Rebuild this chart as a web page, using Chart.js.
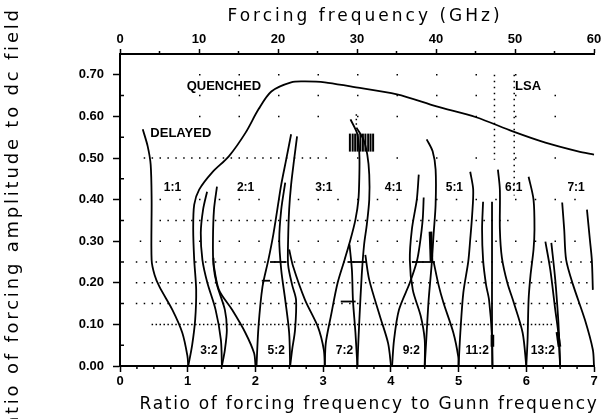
<!DOCTYPE html>
<html>
<head>
<meta charset="utf-8">
<title>Locking regions vs forcing frequency</title>
<script src="https://cdn.jsdelivr.net/npm/chart.js@4.4.1/dist/chart.umd.min.js"></script>
<style>
  html, body { margin: 0; padding: 0; background: #fff; }
  #wrap { width: 605px; height: 419px; position: relative; }
</style>
</head>
<body>
<div id="wrap"><canvas id="lockChart"></canvas></div>
<script>
// region boundaries, [ratio to Gunn frequency, ratio of amplitude to dc field]
var quenchedEdge = [[1.008,0],[1.066,0.051],[1.110,0.111],[1.125,0.183],[1.096,0.255],[1.081,0.328],[1.096,0.388],
  [1.169,0.424],[1.359,0.465],[1.607,0.504],[1.855,0.561],[2.045,0.617],[2.235,0.660],[2.527,0.682],[2.732,0.684],
  [3.024,0.682],[3.404,0.672],[4.091,0.653],[4.675,0.624],[5.260,0.598],[5.800,0.564],[6.282,0.537],[6.764,0.516],[7.0,0.508]];
var delayedEdge = [[0.336,0.569],[0.409,0.528],[0.453,0.484],[0.467,0.400],[0.467,0.255],[0.511,0.219],[0.584,0.190],
  [0.774,0.135],[0.920,0.080],[0.995,0.025],[1.008,0]];
var threeTwoLeft = [[1.286,0.419],[1.227,0.376],[1.193,0.320],[1.217,0.255],[1.290,0.200],[1.412,0.135],[1.490,0.063],[1.505,0]];
var threeTwoRight = [[1.432,0.431],[1.388,0.376],[1.373,0.304],[1.380,0.243],[1.432,0.195],[1.549,0.135],[1.578,0.087],[1.549,0.039],[1.505,0]];
var twoOneLeft = [[1.380,0.260],[1.388,0.239],[1.461,0.183],[1.656,0.135],[1.851,0.080],[1.980,0.031],[2.001,0]];
var twoOneRight = [[2.527,0.557],[2.454,0.496],[2.381,0.436],[2.323,0.376],[2.264,0.316],[2.191,0.255],[2.104,0.190],[2.045,0.094],[2.016,0]];
var fiveTwoRight = [[2.615,0.552],[2.571,0.496],[2.527,0.436],[2.498,0.376],[2.483,0.304],[2.483,0.243],[2.542,0.195],[2.600,0.159],[2.585,0.087],[2.542,0.039],[2.513,0]];
var fiveTwoLeft = [[2.440,0.441],[2.381,0.376],[2.352,0.304],[2.381,0.231],[2.440,0.159],[2.498,0.080],[2.513,0]];
var threeOneLeft = [[2.498,0.280],[2.557,0.239],[2.732,0.159],[2.923,0.094],[3.010,0.039],[3.024,0]];
var threeOneRight = [[3.404,0.593],[3.506,0.557],[3.535,0.508],[3.535,0.460],[3.521,0.400],[3.477,0.352],[3.404,0.304],
  [3.316,0.255],[3.214,0.200],[3.112,0.118],[3.039,0.055],[3.024,0]];
var sevenTwoLeft = [[3.389,0.292],[3.425,0.231],[3.440,0.159],[3.477,0.080],[3.506,0]];
var sevenTwoRight = [[3.492,0.573],[3.594,0.545],[3.652,0.508],[3.681,0.460],[3.681,0.400],[3.645,0.340],[3.605,0.292],
  [3.570,0.219],[3.535,0.111],[3.515,0.039],[3.506,0]];
var fourOneLeft = [[3.623,0.267],[3.681,0.207],[3.842,0.118],[3.959,0.055],[4.003,0]];
var fourOneRight = [[4.485,0.405],[4.470,0.352],[4.427,0.292],[4.383,0.251],[4.280,0.200],[4.120,0.135],[4.047,0.063],[4.018,0]];
var nineTwoLeft = [[4.412,0.460],[4.383,0.400],[4.310,0.328],[4.280,0.255],[4.324,0.183],[4.441,0.120],[4.500,0.063],[4.500,0]];
var nineTwoRight = [[4.529,0.545],[4.617,0.516],[4.661,0.472],[4.661,0.388],[4.631,0.316],[4.602,0.243],[4.558,0.159],[4.529,0.080],[4.500,0]];
var fiveOneLeft = [[4.631,0.251],[4.704,0.195],[4.777,0.152],[4.923,0.080],[4.996,0.022],[5.0,0]];
var fiveOneRight = [[5.172,0.467],[5.216,0.424],[5.201,0.364],[5.172,0.304],[5.143,0.251],[5.070,0.176],[5.026,0.080],[5.0,0]];
var elevenTwoLeft = [[5.362,0.395],[5.347,0.328],[5.362,0.255],[5.406,0.195],[5.450,0.159],[5.494,0.070],[5.5,0]];
var elevenTwoRight = [[5.494,0.395],[5.494,0.255],[5.494,0.080],[5.5,0]];
var sixOneLeft = [[5.581,0.472],[5.610,0.424],[5.610,0.328],[5.640,0.260],[5.720,0.200],[5.810,0.155],[5.946,0.080],[6.0,0]];
var sixOneRight = [[6.034,0.455],[6.107,0.400],[6.121,0.328],[6.107,0.280],[6.063,0.219],[6.034,0.159],[6.019,0.063],[6.0,0]];
var thirteenTwoLeft = [[6.282,0.299],[6.355,0.231],[6.428,0.135],[6.472,0.080],[6.5,0]];
var thirteenTwoRight = [[6.370,0.296],[6.428,0.207],[6.472,0.111],[6.486,0.063],[6.5,0]];
var sevenOneLeft = [[6.530,0.393],[6.560,0.328],[6.589,0.255],[6.691,0.195],[6.866,0.111],[6.983,0.039],[7.0,0]];
var sevenOneRight = [[6.896,0.376],[6.939,0.304],[6.968,0.255],[6.983,0.183]];

// short horizontal marks and heavy bits
var markBars = [
  [[2.216,0.25],[2.459,0.25]],
  [[2.094,0.205],[2.216,0.205]],
  [[3.36,0.25],[3.64,0.25]],
  [[3.26,0.155],[3.48,0.155]],
  [[4.31,0.25],[4.65,0.25]]
];
var heavyBits = [
  [[4.585,0.323],[4.600,0.251]],
  [[5.500,0.075],[5.500,0.046]],
  [[6.460,0.082],[6.490,0.046]]
];

// hatched patch above the 3:1 / 7:2 region
var hatchX = [3.395, 3.436, 3.473, 3.509, 3.550, 3.587, 3.624, 3.665, 3.700, 3.738];
var hatchLevel = 0.537;

// LSA limits in GHz
var lsaGHz = [47.4, 49.9];
var lsaTop = [0.70, 0.70];
var lsaBottom = [0.496, 0.410];

// dotted rows of measurement points (GHz)
var dotRowLevel = [0.70, 0.65, 0.60, 0.50, 0.50, 0.40, 0.35, 0.30, 0.25, 0.20, 0.15, 0.10];
var dotRowFrom = [10, 10, 10, 3, 30, 2.5, 5, 2.5, 2, 2, 2, 4];
var dotRowTo = [55, 60, 60, 27, 60, 60, 50, 60, 60, 60, 60, 55];
var dotRowStep = [5, 5, 5, 1, 5, 2.5, 1, 2.5, 1.25, 1, 1, 0.5];

// labels written on the figure
var labelText = ['QUENCHED', 'DELAYED', 'LSA', '1:1', '2:1', '3:1', '4:1', '5:1', '6:1', '7:1',
  '3:2', '5:2', '7:2', '9:2', '11:2', '13:2'];
var labelX = [1.534, 0.898, 6.026, 0.774, 1.855, 3.010, 4.039, 4.938, 5.815, 6.735,
  1.315, 2.308, 3.316, 4.302, 5.274, 6.245];
var labelY = [0.672, 0.559, 0.672, 0.429, 0.429, 0.429, 0.429, 0.429, 0.429, 0.429,
  0.038, 0.038, 0.038, 0.036, 0.036, 0.036];

var xTitle = 'Ratio of forcing frequency to Gunn frequency';
var x2Title = 'Forcing frequency (GHz)';
var yTitle = 'Ratio of forcing amplitude to dc field';

var yMinor = [0.05, 0.15, 0.25, 0.35, 0.45, 0.55, 0.65];
var xMinor = [0.25, 0.5, 0.75, 1.25, 1.5, 1.75, 2.25, 2.5, 2.75, 3.25, 3.5, 3.75, 4.25, 4.5, 4.75, 5.25, 5.5, 5.75, 6.25, 6.5, 6.75];
var ghzMinor = [5, 15, 25, 35, 45, 55];

var FONT = '"Liberation Sans", Arial, sans-serif';
var TITLE_FONT = '"DejaVu Sans", sans-serif';

function toXY(pts) {
  return pts.map(function (p) { return { x: p[0], y: p[1] }; });
}

function curve(pts, width, tension) {
  return {
    data: toXY(pts),
    showLine: true,
    borderColor: '#000',
    borderWidth: width,
    pointRadius: 0,
    tension: tension,
    clip: 6
  };
}

var datasets = [];

// dotted rows first so the curves sit on top
dotRowLevel.forEach(function (lvl, i) {
  var step = dotRowStep[i];
  datasets.push({
    xAxisID: 'x2',
    data: [{ x: dotRowFrom[i], y: lvl }, { x: dotRowTo[i], y: lvl }],
    showLine: true,
    borderColor: '#000',
    borderWidth: 1.5,
    borderCapStyle: 'butt',
    pointRadius: 0,
    borderDash: function (c) {
      var s = c.chart.scales.x2;
      var gap = s.getPixelForValue(step) - s.getPixelForValue(0);
      return [1.5, Math.max(gap - 1.5, 1)];
    }
  });
});

lsaGHz.forEach(function (g, i) {
  datasets.push({
    xAxisID: 'x2',
    data: [{ x: g, y: lsaTop[i] }, { x: g, y: lsaBottom[i] }],
    showLine: true,
    borderColor: '#000',
    borderWidth: 1.5,
    borderCapStyle: 'butt',
    pointRadius: 0,
    borderDash: [1.5, 4.5]
  });
});

// little dotted stub above the hatch
datasets.push({
  data: [{ x: 3.49, y: 0.605 }, { x: 3.49, y: 0.576 }],
  showLine: true, borderColor: '#000', borderWidth: 1.5, pointRadius: 0, borderDash: [1.5, 3]
});

[quenchedEdge, delayedEdge, threeTwoLeft, threeTwoRight, twoOneLeft, twoOneRight, fiveTwoLeft, fiveTwoRight,
 threeOneLeft, threeOneRight, sevenTwoLeft, sevenTwoRight, fourOneLeft, fourOneRight, nineTwoLeft, nineTwoRight,
 fiveOneLeft, fiveOneRight, elevenTwoLeft, elevenTwoRight, sixOneLeft, sixOneRight, thirteenTwoLeft, thirteenTwoRight,
 sevenOneLeft, sevenOneRight].forEach(function (pts) {
  datasets.push(curve(pts, 1.8, 0.3));
});

markBars.forEach(function (pts) { datasets.push(curve(pts, 1.8, 0)); });
heavyBits.forEach(function (pts) { datasets.push(curve(pts, 3.6, 0)); });

datasets.push({
  data: hatchX.map(function (x) { return { x: x, y: hatchLevel }; }),
  showLine: false,
  pointStyle: 'line',
  rotation: 90,
  radius: 9,
  borderColor: '#000',
  backgroundColor: '#000',
  borderWidth: 2
});

var figureText = {
  id: 'figureText',
  afterDatasetsDraw: function (chart) {
    var ctx = chart.ctx;
    var xs = chart.scales.x, ys = chart.scales.y, xt = chart.scales.x2;
    var area = chart.chartArea;
    ctx.save();
    ctx.fillStyle = '#000';
    ctx.strokeStyle = '#000';
    ctx.textAlign = 'center';
    ctx.textBaseline = 'middle';
    for (var i = 0; i < labelText.length; i++) {
      ctx.font = 'bold ' + (i < 3 ? 13 : 12) + 'px ' + FONT;
      ctx.fillText(labelText[i], xs.getPixelForValue(labelX[i]), ys.getPixelForValue(labelY[i]));
    }

    // axis titles, spaced out like the original lettering
    ctx.font = '17px ' + TITLE_FONT;
    ctx.letterSpacing = '1.7px';
    ctx.fillText(xTitle, (area.left + area.right) / 2 + 12, 405);
    ctx.letterSpacing = '3px';
    ctx.fillText(x2Title, (area.left + area.right) / 2 + 8, 17);
    ctx.font = '18px ' + TITLE_FONT;
    ctx.letterSpacing = '2.8px';
    ctx.save();
    ctx.translate(13, 225);
    ctx.rotate(-Math.PI / 2);
    ctx.fillText(yTitle, 0, 0);
    ctx.restore();
    ctx.letterSpacing = '0px';

    // minor ticks
    ctx.lineWidth = 1.5;
    ctx.beginPath();
    yMinor.forEach(function (v) {
      var py = ys.getPixelForValue(v);
      ctx.moveTo(ys.right, py);
      ctx.lineTo(ys.right + 4, py);
    });
    xMinor.forEach(function (v) {
      var px = xs.getPixelForValue(v);
      ctx.moveTo(px, xs.top);
      ctx.lineTo(px, xs.top + 3);
    });
    ghzMinor.forEach(function (v) {
      var px = xt.getPixelForValue(v);
      ctx.moveTo(px, xt.bottom);
      ctx.lineTo(px, xt.bottom - 3);
    });
    ctx.stroke();
    ctx.restore();
  }
};

new Chart(document.getElementById('lockChart'), {
  type: 'scatter',
  data: { datasets: datasets },
  options: {
    responsive: true,
    maintainAspectRatio: false,
    animation: false,
    events: [],
    layout: { padding: { right: 6, left: 0, top: 0, bottom: 0 } },
    plugins: { legend: { display: false }, tooltip: { enabled: false } },
    scales: {
      x: {
        type: 'linear', position: 'bottom', min: 0, max: 7,
        ticks: { stepSize: 1, color: '#000', padding: 2, font: { family: FONT, size: 13, weight: 'bold' } },
        grid: { drawOnChartArea: false, tickLength: 6, tickColor: '#000', tickWidth: 1.5 },
        border: { color: '#000', width: 2 },
        afterFit: function (s) { s.height = 53; s.paddingLeft = 0; s.paddingRight = 0; }
      },
      x2: {
        type: 'linear', position: 'top', min: 0, max: 60,
        ticks: { stepSize: 10, color: '#000', padding: 2, font: { family: FONT, size: 13, weight: 'bold' } },
        grid: { drawOnChartArea: false, tickLength: 5, tickColor: '#000', tickWidth: 1.5 },
        border: { color: '#000', width: 2 },
        afterFit: function (s) { s.height = 54; s.paddingLeft = 0; s.paddingRight = 0; }
      },
      y: {
        type: 'linear', min: 0, max: 0.75,
        ticks: { stepSize: 0.1, color: '#000', padding: 9, font: { family: FONT, size: 13, weight: 'bold' },
                 callback: function (v) { return v.toFixed(2); } },
        afterBuildTicks: function (s) {
          s.ticks = s.ticks.filter(function (t) { return t.value <= 0.7001; });
        },
        grid: { drawOnChartArea: false, tickLength: 7, tickColor: '#000', tickWidth: 1.5 },
        border: { color: '#000', width: 2 },
        afterFit: function (s) { s.width = 120; s.paddingTop = 0; s.paddingBottom = 0; }
      }
    }
  },
  plugins: [figureText]
});
</script>
</body>
</html>
